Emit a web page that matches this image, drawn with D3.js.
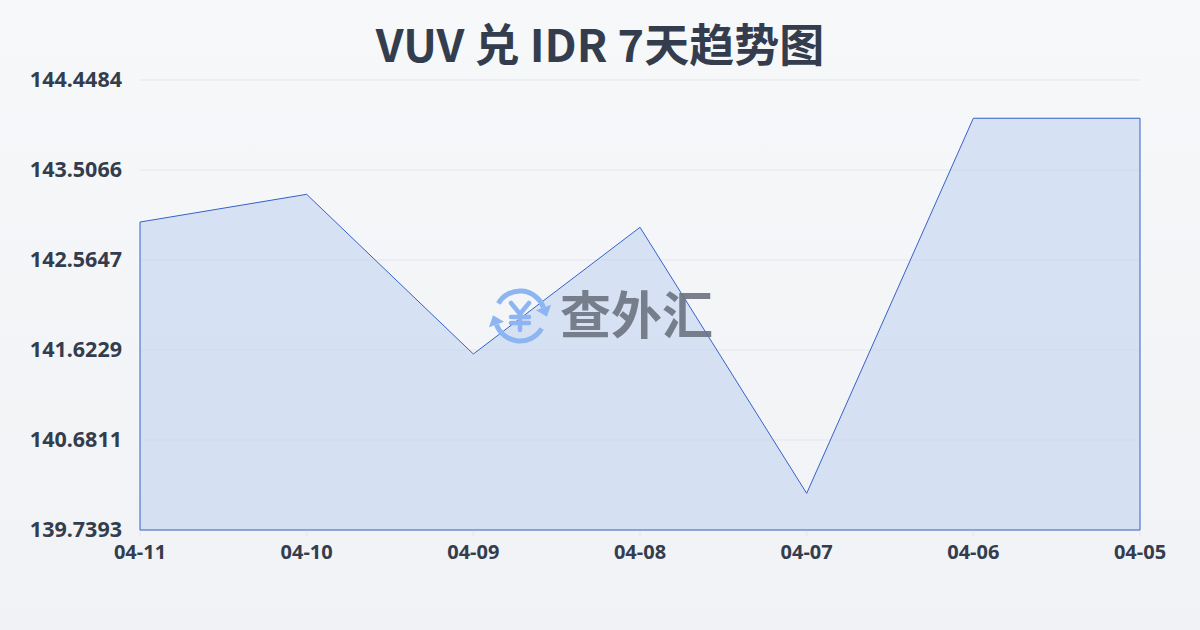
<!DOCTYPE html>
<html><head><meta charset="utf-8">
<script src="https://cdn.jsdelivr.net/npm/d3@7"></script>
<style>html,body{margin:0;padding:0;}svg{display:block;}</style>
</head><body>
<svg id="chart" width="1200" height="630"></svg>
<script>
const categories = ["04-11","04-10","04-09","04-08","04-07","04-06","04-05"];
const values = [142.962, 143.252, 141.581, 142.907, 140.123, 144.048, 144.048];
const yTicks = [139.7393, 140.6811, 141.6229, 142.5647, 143.5066, 144.4484];
const title = "VUV 兑 IDR 7天趋势图";

const svg = d3.select("#chart");
const W = 1200, H = 630;
const m = {left:140, right:60, top:80, bottom:100};
const defs = svg.append("defs");
const bg = defs.append("linearGradient").attr("id","bg").attr("x1",0).attr("y1",0).attr("x2",0).attr("y2",1);
bg.append("stop").attr("offset","0%").attr("stop-color","#f7f8fa");
bg.append("stop").attr("offset","100%").attr("stop-color","#f0f2f5");
svg.append("rect").attr("width",W).attr("height",H).attr("fill","url(#bg)");

const x = d3.scalePoint().domain(categories).range([m.left, W-m.right]);
const y = d3.scaleLinear().domain([yTicks[0], yTicks[yTicks.length-1]]).range([H-m.bottom, m.top]);

// grid
svg.append("g").selectAll("line").data(yTicks).join("line")
  .attr("x1",m.left).attr("x2",W-m.right)
  .attr("y1",d=>y(d)).attr("y2",d=>y(d))
  .attr("stroke","#e3e6eb").attr("stroke-width",1);

// x ticks
svg.append("g").selectAll("line").data(categories).join("line")
  .attr("x1",d=>x(d)).attr("x2",d=>x(d))
  .attr("y1",H-m.bottom).attr("y2",H-m.bottom+6)
  .attr("stroke","#e3e6eb");

const data = categories.map((c,i)=>({c, v:values[i]}));
const area = d3.area().x(d=>x(d.c)).y0(y(yTicks[0])).y1(d=>y(d.v));
svg.append("path").datum(data).attr("d",area)
  .attr("fill","rgba(190,208,240,0.55)").attr("stroke","#3563c9").attr("stroke-width",1);

// watermark
const wm = svg.append("g");
const cx=520, cy=316, r=25, col="#8db5f2";
const arcGen = d3.arc().innerRadius(r-2.5).outerRadius(r+2.5);
function ring(a0, a1){
  wm.append("path").attr("d",arcGen({startAngle:a0*Math.PI/180,endAngle:a1*Math.PI/180}))
    .attr("transform",`translate(${cx},${cy})`).attr("fill",col);
  const a = a1*Math.PI/180;
  const px = cx + r*Math.sin(a), py = cy - r*Math.cos(a);
  const rx = Math.sin(a), ry = -Math.cos(a);   // radial
  const tx = Math.cos(a), ty = Math.sin(a);    // clockwise tangent
  const w = 8, l = 10;
  wm.append("path").attr("d",`M${px+rx*w},${py+ry*w} L${px-rx*w},${py-ry*w} L${px+tx*l},${py+ty*l} Z`).attr("fill",col);
}
ring(-60, 70);
ring(120, 250);
wm.append("path").attr("d",`M${cx-9},${cy-13} L${cx},${cy-2} L${cx+9},${cy-13} M${cx},${cy-2} L${cx},${cy+14} M${cx-9},${cy+1} L${cx+9},${cy+1} M${cx-9},${cy+7} L${cx+9},${cy+7}`)
  .attr("fill","none").attr("stroke",col).attr("stroke-width",4.5).attr("stroke-linecap","round").attr("stroke-linejoin","round");
wm.append("text").attr("x",560).attr("y",334).attr("font-family","Noto Sans CJK SC").attr("font-weight","bold")
  .attr("font-size",51).attr("fill","#6b7280").attr("fill-opacity",0.9).text("查外汇");

// y labels
svg.append("g").selectAll("text").data(yTicks).join("text")
  .attr("x",122).attr("y",d=>y(d)+7).attr("text-anchor","end")
  .attr("font-family","Noto Sans, Open Sans, sans-serif").attr("font-weight","bold").attr("font-size",21.5)
  .attr("fill","#343d4d").text(d=>d.toFixed(4));
// x labels
svg.append("g").selectAll("text").data(categories).join("text")
  .attr("x",d=>x(d)).attr("y",559).attr("text-anchor","middle")
  .attr("font-family","Noto Sans, Open Sans, sans-serif").attr("font-weight","bold").attr("font-size",20)
  .attr("fill","#343d4d").text(d=>d);

svg.append("text").attr("x",600).attr("y",62).attr("text-anchor","middle")
  .attr("font-family","Noto Sans CJK SC").attr("font-weight","bold").attr("font-size",45)
  .attr("fill","#343d4d").text(title);
</script>
</body></html>
